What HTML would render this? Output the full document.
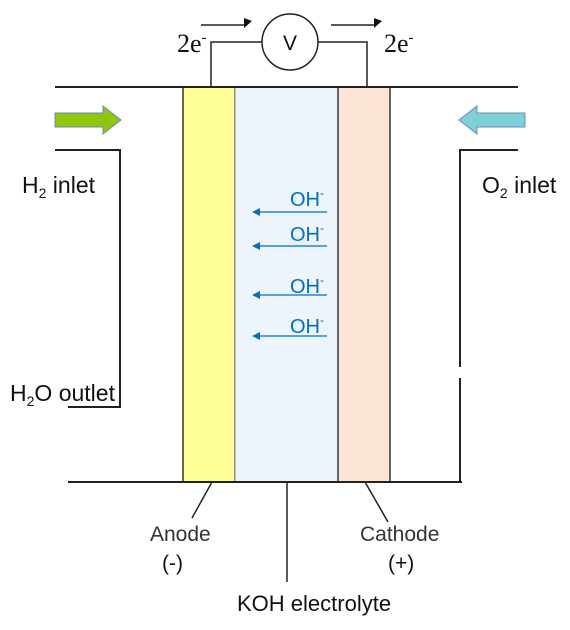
<!DOCTYPE html>
<html><head><meta charset="utf-8"><style>
html,body{margin:0;padding:0;background:#fff;width:570px;height:630px;overflow:hidden}
</style></head><body>
<svg width="570" height="630" xmlns="http://www.w3.org/2000/svg" font-family="Liberation Sans, sans-serif">
<rect x="183" y="87" width="52" height="395" fill="#ffff99" stroke="#333" stroke-width="1.5"/>
<rect x="235" y="87" width="103" height="395" fill="#edf4fb" stroke="#888" stroke-width="1"/>
<rect x="338" y="87" width="52" height="395" fill="#fbe5d6" stroke="#333" stroke-width="1.5"/>
<g stroke="#222" stroke-width="2" fill="none">
<line x1="55" y1="87" x2="518" y2="87"/>
<line x1="68" y1="482" x2="462" y2="482"/>
<polyline points="55,150 120,150 120,407 68,407"/>
<polyline points="518,150 460,150 460,367"/>
<line x1="460" y1="378" x2="460" y2="482"/>
</g>
<g stroke="#222" stroke-width="1.5" fill="none">
<polyline points="211,87 211,42 262,42"/>
<polyline points="318,42 367,42 367,87"/>
<circle cx="290" cy="42" r="28" fill="#fff"/>
<line x1="201" y1="25" x2="246" y2="25"/><line x1="331" y1="25" x2="376" y2="25"/>
<line x1="212" y1="482" x2="192" y2="518"/>
<line x1="365" y1="482" x2="388" y2="522"/>
<line x1="287" y1="482" x2="287" y2="582"/>
</g>
<polygon points="252,21 244,18 244,28" fill="#111"/><polygon points="382,21 374,18 374,28" fill="#111"/>
<path d="M55,113 H103 V106 L121,120 L103,134 V127 H55 Z" fill="#92c50e" stroke="#6a8cc0" stroke-width="1"/>
<path d="M525,113 H477 V106 L459,120 L477,134 V127 H525 Z" fill="#80ced6" stroke="#6a8cc0" stroke-width="1"/>
<g font-family="Liberation Serif, serif" font-size="26" fill="#111">
<text x="177" y="52">2e<tspan font-size="15" dy="-10">-</tspan></text>
<text x="384" y="52">2e<tspan font-size="15" dy="-10">-</tspan></text>
</g>
<text x="290" y="50" font-size="21" text-anchor="middle" fill="#111">V</text>
<g fill="#0070c0" font-size="20">
<text x="290" y="206">OH<tspan font-size="12" dy="-9">-</tspan></text>
<text x="290" y="241">OH<tspan font-size="12" dy="-9">-</tspan></text>
<text x="290" y="293">OH<tspan font-size="12" dy="-9">-</tspan></text>
<text x="290" y="333">OH<tspan font-size="12" dy="-9">-</tspan></text>
</g>
<g stroke="#0070c0" stroke-width="1.3"><line x1="258" y1="212" x2="327" y2="212"/><line x1="258" y1="246" x2="327" y2="246"/><line x1="258" y1="295" x2="327" y2="295"/><line x1="258" y1="336" x2="327" y2="336"/></g>
<g fill="#0070c0"><polygon points="252,212 260,208 260,216"/><polygon points="252,246 260,242 260,250"/><polygon points="252,295 260,291 260,299"/><polygon points="252,336 260,332 260,340"/></g>
<g font-size="23" fill="#111">
<text x="22" y="193">H<tspan font-size="14" dy="5">2</tspan><tspan dy="-5"> inlet</tspan></text>
<text x="482" y="193">O<tspan font-size="14" dy="5">2</tspan><tspan dy="-5"> inlet</tspan></text>
<text x="10" y="401">H<tspan font-size="14" dy="5">2</tspan><tspan dy="-5">O outlet</tspan></text>
<text x="150" y="541" font-size="21" fill="#333">Anode</text>
<text x="162" y="570" font-size="21">(-)</text>
<text x="360" y="541" font-size="21" fill="#333">Cathode</text>
<text x="388" y="570" font-size="21">(+)</text>
<text x="237" y="611" font-size="22">KOH electrolyte</text>
</g>
</svg>
</body></html>
